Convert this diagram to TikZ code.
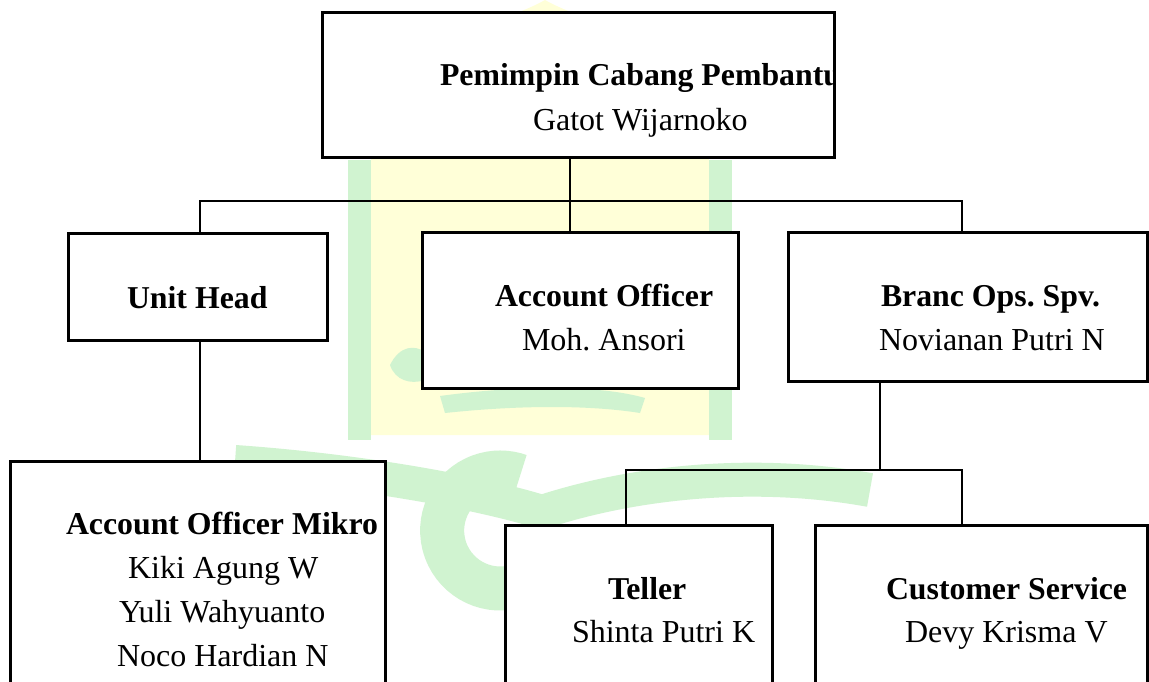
\documentclass[tikz,border=0pt]{standalone}
\usepackage{fontspec}
\setmainfont{Liberation Serif}
\frenchspacing
\definecolor{wmgreen}{RGB}{208,243,208}
\definecolor{wmyellow}{RGB}{255,255,216}
\begin{document}
\begin{tikzpicture}[x=1pt,y=-1pt,
  box/.style={draw=black, line width=3pt, rectangle, fill=white, inner sep=0pt, outer sep=0pt, anchor=north west},
  txt/.style={font=\fontsize{32}{38}\selectfont, inner sep=0pt, outer sep=0pt, anchor=base west},
  hd/.style={txt, font=\fontsize{31.8}{38}\selectfont\bfseries},
  link/.style={draw=black, line width=2.7pt}]
\useasboundingbox (0,0) rectangle (1149,682);
\clip (0,0) rectangle (1149,682);
\fill[white] (0,0) rectangle (1149,682);
% faint watermark
\fill[wmyellow] (371,435) -- (371,70) .. controls (430,40) and (510,20) .. (545,0) .. controls (580,20) and (660,40) .. (709,70) -- (709,435) -- cycle;
\fill[wmgreen] (348,160) rectangle (371,440);
\fill[wmgreen] (709,160) rectangle (732,440);
\fill[wmgreen] (390,365) .. controls (400,345) and (415,345) .. (425,352) -- (425,380) .. controls (410,385) and (395,380) .. (390,365) -- cycle;
\fill[wmgreen] (440,396) .. controls (520,385) and (600,385) .. (645,398) -- (640,413) .. controls (590,405) and (520,405) .. (445,413) -- cycle;
\draw[wmgreen, line width=34pt] (235,462) .. controls (350,470) and (470,490) .. (542,512) .. controls (640,480) and (760,470) .. (870,490);
\draw[wmgreen, line width=44pt] (520,585) arc[start angle=70, end angle=290, radius=58];
% boxes
\node[box, minimum width=512pt, minimum height=145pt] (top) at (322,13) {};
\node[box, minimum width=259pt, minimum height=107pt] (uh) at (68,233) {};
\node[box, minimum width=316pt, minimum height=156pt] (ao) at (422,232) {};
\node[box, minimum width=359pt, minimum height=149pt] (bo) at (788,232) {};
\node[box, minimum width=375pt, minimum height=240pt] (aom) at (10,461) {};
\node[box, minimum width=267pt, minimum height=180pt] (tel) at (505,525) {};
\node[box, minimum width=332pt, minimum height=180pt] (cs) at (815,525) {};
% texts
\begin{scope}
\clip (0,0) rectangle (833,682);
\node[hd] (t1) at (440,86) {Pemimpin Cabang Pembantu};
\end{scope}
\node[txt] (t2) at (533,131) {Gatot Wijarnoko};
\node[hd] (u1) at (127,308) {Unit Head};
\node[hd] (a1) at (495,306) {Account Officer};
\node[txt] (a2) at (522,350) {Moh. Ansori};
\node[hd] (b1) at (881,306) {Branc Ops. Spv.};
\node[txt] (b2) at (879,350) {Novianan Putri N};
\node[hd] (m1) at (66,534) {Account Officer Mikro};
\node[txt] (m2) at (128,578) {Kiki Agung W};
\node[txt] (m3) at (119,622) {Yuli Wahyuanto};
\node[txt] (m4) at (117,666) {Noco Hardian N};
\node[hd] (e1) at (608,599) {Teller};
\node[txt] (e2) at (572,642) {Shinta Putri K};
\node[hd] (c1) at (886,599) {Customer Service};
\node[txt] (c2) at (905,642) {Devy Krisma V};
% connector points
\coordinate (jm) at (570,201);
\coordinate (jl) at (200,201);
\coordinate (jr) at (962,201);
\coordinate (jb) at (880,470);
\coordinate (jt) at (626,470);
\coordinate (jc) at (962,470);
% connectors
\draw[link] (top.south -| jm) -- (ao.north -| jm);
\draw[link] (uh.north -| jl) -- (jl) -- (jr) -- (bo.north -| jr);
\draw[link] (uh.south -| jl) -- (aom.north -| jl);
\draw[link] (bo.south -| jb) -- (jb);
\draw[link] (tel.north -| jt) -- (jt) -- (jc) -- (cs.north -| jc);
\end{tikzpicture}
\end{document}
